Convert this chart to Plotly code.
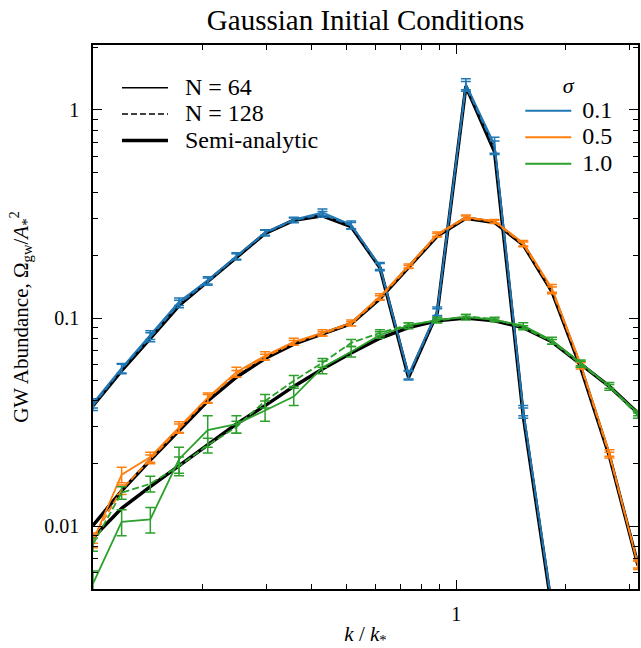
import plotly.graph_objects as go
import math

# ---------------- data ----------------
k = [0.1, 0.1199, 0.1438, 0.1725, 0.2069, 0.2481, 0.2976, 0.3569, 0.4281, 0.5135,
     0.6159, 0.7387, 0.886, 1.0624, 1.2743, 1.5284, 1.8332, 2.1988, 2.6373, 3.1623]

# sigma = 0.1
blue_n64 = [0.039, 0.0575, 0.083, 0.120, 0.152, 0.199, 0.258, 0.297, 0.322, 0.281,
            0.178, 0.0535, 0.108, 1.33, 0.68, 0.036, 0.0042, 3e-4, 2e-5, 1e-6]
blue_n64_err = [0.002, 0.003, 0.004, 0.005, 0.006, 0.007, 0.008, 0.008, 0.012, 0.012,
                0.007, 0.0025, 0.005, 0.08, 0.06, 0.002, 0.0003, 2e-5, 1e-6, 1e-7]
blue_n128 = [0.038, 0.057, 0.081, 0.117, 0.150, 0.197, 0.256, 0.295, 0.315, 0.278,
             0.176, 0.053, 0.106, 1.30, 0.66, 0.035, 0.0041, 3e-4, 2e-5, 1e-6]
blue_n128_err = [0.002, 0.003, 0.004, 0.005, 0.006, 0.007, 0.008, 0.008, 0.010, 0.010,
                 0.007, 0.0025, 0.005, 0.07, 0.05, 0.002, 0.0003, 2e-5, 1e-6, 1e-7]
blue_semi = [0.038, 0.056, 0.080, 0.115, 0.150, 0.196, 0.255, 0.295, 0.310, 0.275,
             0.175, 0.052, 0.106, 1.30, 0.63, 0.034, 0.004, 3e-4, 2e-5, 1e-6]

# sigma = 0.5
orange_n64 = [0.0085, 0.0177, 0.0215, 0.030, 0.0415, 0.055, 0.066, 0.077, 0.085, 0.095,
              0.127, 0.178, 0.253, 0.305, 0.292, 0.229, 0.139, 0.060, 0.0225, 0.0065]
orange_n64_err = [0.0006, 0.0015, 0.0012, 0.0018, 0.0022, 0.003, 0.003, 0.003, 0.003, 0.003,
                  0.004, 0.004, 0.006, 0.008, 0.006, 0.007, 0.006, 0.002, 0.0008, 0.0003]
orange_n128 = [0.0088, 0.0150, 0.021, 0.0295, 0.041, 0.054, 0.065, 0.076, 0.084, 0.094,
               0.125, 0.176, 0.250, 0.303, 0.290, 0.226, 0.136, 0.059, 0.022, 0.0066]
orange_n128_err = [0.0005, 0.0008, 0.001, 0.0015, 0.002, 0.002, 0.002, 0.002, 0.002, 0.002,
                   0.003, 0.003, 0.005, 0.006, 0.005, 0.006, 0.005, 0.002, 0.0007, 0.0003]
orange_semi = [0.0101, 0.0148, 0.0208, 0.029, 0.040, 0.052, 0.064, 0.075, 0.084, 0.094,
               0.124, 0.175, 0.248, 0.302, 0.288, 0.225, 0.134, 0.058, 0.0218, 0.0065]

# sigma = 1.0
green_n64 = [0.0053, 0.0105, 0.0108, 0.021, 0.029, 0.031, 0.036, 0.042, 0.058, 0.069,
             0.083, 0.092, 0.098, 0.101, 0.098, 0.092, 0.078, 0.061, 0.047, 0.035]
green_n64_err = [0.0008, 0.0015, 0.0015, 0.003, 0.005, 0.003, 0.004, 0.004, 0.004, 0.004,
                 0.003, 0.003, 0.003, 0.003, 0.002, 0.003, 0.003, 0.002, 0.002, 0.001]
green_n128 = [0.0082, 0.0145, 0.016, 0.0195, 0.0245, 0.030, 0.040, 0.050, 0.061, 0.076,
              0.085, 0.093, 0.097, 0.102, 0.099, 0.090, 0.077, 0.060, 0.047, 0.034]
green_n128_err = [0.0006, 0.001, 0.0014, 0.002, 0.002, 0.002, 0.003, 0.003, 0.003, 0.003,
                  0.003, 0.002, 0.002, 0.002, 0.002, 0.002, 0.002, 0.002, 0.001, 0.001]
green_semi = [0.0088, 0.0122, 0.0155, 0.0195, 0.0245, 0.031, 0.038, 0.047, 0.057, 0.068,
              0.080, 0.090, 0.097, 0.100, 0.097, 0.090, 0.077, 0.060, 0.047, 0.035]

sigma_labels = ["0.1", "0.5", "1.0"]
res_labels = ["N = 64", "N = 128", "Semi-analytic"]
x_ticks = [1]
x_ticktext = ["1"]
x_minor = [0.2, 0.3, 0.4, 0.5, 0.6, 0.7, 0.8, 0.9, 2, 3]
y_ticks = [0.01, 0.1, 1]
y_ticktext = ["0.01", "0.1", "1"]
y_minor = [0.005, 0.006, 0.007, 0.008, 0.009, 0.02, 0.03, 0.04, 0.05, 0.06, 0.07, 0.08,
           0.09, 0.2, 0.3, 0.4, 0.5, 0.6, 0.7, 0.8, 0.9, 2]

# ---------------- style ----------------
colors = ["#1f77b4", "#ff7f0e", "#2ca02c"]
FONT = "Liberation Serif"
LEG_TXT = 24  # legend label size (px)
NBSP = "\u00a0"


def big(s, pad):
    return "<span style='font-size:%dpx'>%s%s</span>" % (LEG_TXT, NBSP * pad, s)


series = [
    (blue_n64, blue_n64_err, blue_n128, blue_n128_err, blue_semi),
    (orange_n64, orange_n64_err, orange_n128, orange_n128_err, orange_semi),
    (green_n64, green_n64_err, green_n128, green_n128_err, green_semi),
]

fig = go.Figure()

# semi-analytic (thick black) underneath
for (_, _, _, _, semi) in series:
    fig.add_trace(go.Scatter(x=k, y=semi, mode="lines",
                             line=dict(color="black", width=3.5),
                             showlegend=False, hoverinfo="skip"))

for col, (n64, e64, n128, e128, _) in zip(colors, series):
    fig.add_trace(go.Scatter(x=k, y=n64, mode="lines",
                             line=dict(color=col, width=1.8),
                             error_y=dict(type="data", array=e64, color=col,
                                          thickness=1.5, width=5),
                             showlegend=False))
    fig.add_trace(go.Scatter(x=k, y=n128, mode="lines",
                             line=dict(color=col, width=1.8, dash="7px,3px"),
                             error_y=dict(type="data", array=e128, color=col,
                                          thickness=1.5, width=5),
                             showlegend=False))

# legend entries: line styles
res_styles = [dict(color="black", width=1.5),
              dict(color="black", width=1.5, dash="6px,3px"),
              dict(color="black", width=3.5)]
for i, (lab, st) in enumerate(zip(res_labels, res_styles)):
    fig.add_trace(go.Scatter(x=[None], y=[None], mode="lines", line=st,
                             name=big(lab, 2), legend="legend"))
# legend entries: sigma colours
for i, (lab, col) in enumerate(zip(sigma_labels, colors)):
    fig.add_trace(go.Scatter(x=[None], y=[None], mode="lines",
                             line=dict(color=col, width=2), name=big(lab, 1),
                             legend="legend2"))

axis_common = dict(showgrid=False, zeroline=False, showline=True, linecolor="black",
                   linewidth=1.5, ticks="inside", ticklen=9, tickwidth=1,
                   tickcolor="black", mirror="allticks",
                   tickfont=dict(family=FONT, size=20, color="black"))

fig.update_layout(
    width=641, height=648,
    margin=dict(l=93, r=1, t=45, b=58),
    paper_bgcolor="white", plot_bgcolor="white",
    font=dict(family=FONT, size=18, color="black"),
    title=dict(text="Gaussian Initial Conditions", x=0.5, xref="paper",
               y=1 - 20 / 648, yref="container", yanchor="middle",
               font=dict(family=FONT, size=29, color="black")),
    xaxis=dict(type="log", range=[-1, 0.5], tickmode="array", tickvals=x_ticks,
               ticktext=x_ticktext,
               minor=dict(tickmode="array", tickvals=x_minor, ticks="inside",
                          ticklen=5, tickwidth=1, tickcolor="black"),
               title=dict(text="<i>k</i> / <i>k</i><sub>*</sub>", standoff=8,
                          font=dict(family=FONT, size=21)),
               ticklabelstandoff=6,
               **axis_common),
    yaxis=dict(type="log", range=[math.log10(0.005), math.log10(2.05)],
               tickmode="array", tickvals=y_ticks, ticktext=y_ticktext,
               minor=dict(tickmode="array", tickvals=y_minor, ticks="inside",
                          ticklen=5, tickwidth=1, tickcolor="black"),
               title=dict(text="GW Abundance, Ω<sub>gw</sub>/<i>A</i><sub>*</sub><sup>2</sup>",
                          standoff=10, font=dict(family=FONT, size=21)),
               ticklabelstandoff=8,
               **axis_common),
    legend=dict(x=0.044, y=0.955, xanchor="left", yanchor="top",
                bgcolor="rgba(0,0,0,0)", borderwidth=0, itemwidth=46,
                font=dict(family=FONT, size=18, color="black")),
    legend2=dict(x=0.784, y=0.965, xanchor="left", yanchor="top",
                 bgcolor="rgba(0,0,0,0)", borderwidth=0, itemwidth=46,
                 font=dict(family=FONT, size=18, color="black"),
                 title=dict(text="<i>σ</i>", side="top center",
                            font=dict(family=FONT, size=22))),
    showlegend=True,
)

fig.write_html("out.html")
